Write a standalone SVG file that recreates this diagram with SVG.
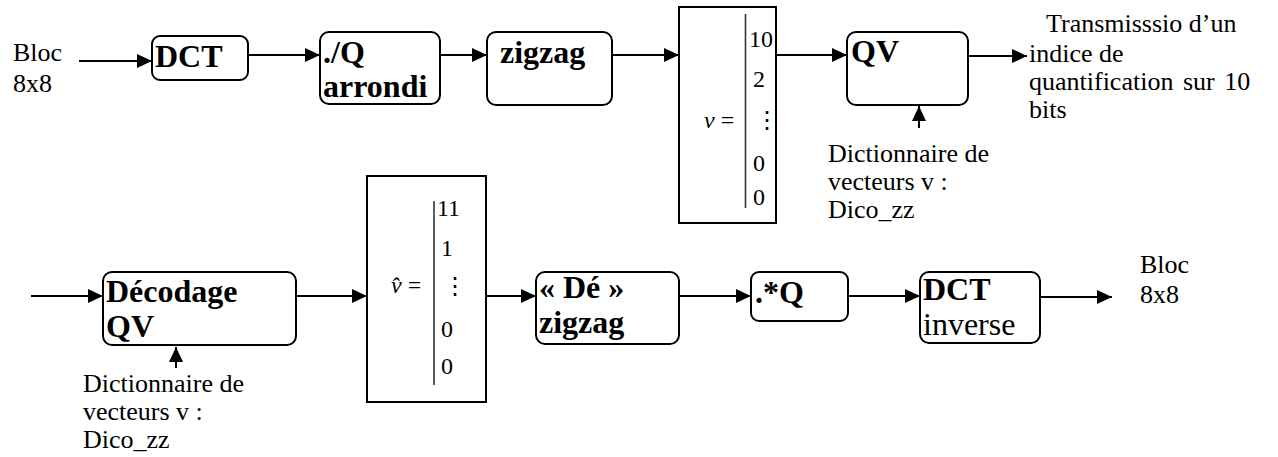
<svg xmlns="http://www.w3.org/2000/svg" width="1278" height="457" viewBox="0 0 1278 457">
  <style>
    .box { fill: #fff; stroke: #000; stroke-width: 2; }
    .mat { fill: #fff; stroke: #000; stroke-width: 2; }
    .bar { stroke: #333; stroke-width: 1.6; }
    .wire { stroke: #000; stroke-width: 2; fill: none; marker-end: url(#ah); }
    text { font-family: "Liberation Serif", "Times New Roman", serif; fill: #000; }
    .lbl { font-size: 32px; font-weight: bold; }
    .lblr { font-size: 32px; }
    .note { font-size: 26px; }
    .num { font-size: 24px; }
    .it { font-style: italic; }
  </style>
  <defs>
    <marker id="ah" viewBox="0 0 15 14" refX="15" refY="7" markerWidth="15" markerHeight="14" markerUnits="userSpaceOnUse" orient="auto">
      <path d="M0,0 L15,7 L0,14 z" fill="#000"/>
    </marker>
  </defs>

  <!-- coder chain -->
  <g id="in-label">
    <text class="note" x="13" y="61">Bloc</text>
    <text class="note" x="13" y="92">8x8</text>
  </g>
  <g id="dct">
    <rect class="box" x="152" y="36" width="96" height="44" rx="8"/>
    <text class="lbl" x="155" y="67">DCT</text>
  </g>
  <g id="quant">
    <rect class="box" x="320" y="32" width="120" height="72" rx="9"/>
    <text class="lbl" x="323" y="63">./Q</text>
    <text class="lbl" x="323" y="97">arrondi</text>
  </g>
  <g id="zigzag">
    <rect class="box" x="487" y="32" width="125" height="73" rx="9"/>
    <text class="lbl" x="500" y="63">zigzag</text>
  </g>
  <g id="vec-v">
    <rect class="mat" x="679" y="7" width="97" height="216"/>
    <line class="bar" x1="745.5" y1="14" x2="745.5" y2="208"/>
    <text class="num" x="704" y="128"><tspan class="it">v</tspan> =</text>
    <text class="num" x="749" y="47">10</text>
    <text class="num" x="753" y="87">2</text>
    <text class="num" x="755" y="128">⋮</text>
    <text class="num" x="753" y="171">0</text>
    <text class="num" x="753" y="205">0</text>
  </g>
  <g id="qv">
    <rect class="box" x="847" y="32" width="121" height="73" rx="9"/>
    <text class="lbl" x="851" y="62">QV</text>
  </g>
  <g id="dico-top">
    <text class="note" x="828" y="162">Dictionnaire de</text>
    <text class="note" x="828" y="190">vecteurs v :</text>
    <text class="note" x="828" y="218">Dico_zz</text>
  </g>
  <g id="out-label">
    <text class="note" x="1046" y="32">Transmisssio d’un</text>
    <text class="note" x="1029" y="62">indice de</text>
    <text class="note" x="1029" y="90" word-spacing="3">quantification sur 10</text>
    <text class="note" x="1029" y="118">bits</text>
  </g>

  <!-- decoder chain -->
  <g id="decodage">
    <rect class="box" x="103" y="272" width="193" height="73" rx="9"/>
    <text class="lbl" x="106" y="302">Décodage</text>
    <text class="lbl" x="106" y="337">QV</text>
  </g>
  <g id="dico-bottom">
    <text class="note" x="83" y="392">Dictionnaire de</text>
    <text class="note" x="83" y="420">vecteurs v :</text>
    <text class="note" x="83" y="448">Dico_zz</text>
  </g>
  <g id="vec-vhat">
    <rect class="mat" x="367" y="176" width="119" height="226"/>
    <line class="bar" x1="434" y1="201" x2="434" y2="385"/>
    <text class="num" x="391" y="293"><tspan class="it">v̂</tspan> =</text>
    <text class="num" x="437" y="216">11</text>
    <text class="num" x="441" y="256">1</text>
    <text class="num" x="443" y="294">⋮</text>
    <text class="num" x="441" y="337">0</text>
    <text class="num" x="441" y="374">0</text>
  </g>
  <g id="dezigzag">
    <rect class="box" x="536" y="272" width="143" height="72" rx="9"/>
    <text class="lbl" x="539" y="298">« Dé »</text>
    <text class="lbl" x="539" y="333">zigzag</text>
  </g>
  <g id="mulq">
    <rect class="box" x="751" y="272" width="97" height="49" rx="8"/>
    <text class="lbl" x="755" y="303">.*Q</text>
  </g>
  <g id="idct">
    <rect class="box" x="920" y="272" width="120" height="71" rx="9"/>
    <text class="lbl" x="923" y="300">DCT</text>
    <text class="lblr" x="923" y="335">inverse</text>
  </g>
  <g id="out-label-2">
    <text class="note" x="1140" y="273">Bloc</text>
    <text class="note" x="1140" y="303">8x8</text>
  </g>

  <g id="connectors">
    <line class="wire" x1="79" y1="61" x2="152" y2="61"/>
    <line class="wire" x1="248" y1="55" x2="320" y2="55"/>
    <line class="wire" x1="440" y1="55" x2="487" y2="55"/>
    <line class="wire" x1="612" y1="55" x2="679" y2="55"/>
    <line class="wire" x1="776" y1="55" x2="847" y2="55"/>
    <line class="wire" x1="968" y1="56" x2="1027" y2="56"/>
    <line class="wire" x1="919" y1="128" x2="919" y2="106"/>
    <line class="wire" x1="31" y1="296" x2="103" y2="296"/>
    <line class="wire" x1="296" y1="296" x2="367" y2="296"/>
    <line class="wire" x1="176" y1="368" x2="176" y2="347"/>
    <line class="wire" x1="486" y1="296" x2="536" y2="296"/>
    <line class="wire" x1="679" y1="296" x2="751" y2="296"/>
    <line class="wire" x1="848" y1="296" x2="920" y2="296"/>
    <line class="wire" x1="1040" y1="297" x2="1112" y2="297"/>
  </g>
</svg>
